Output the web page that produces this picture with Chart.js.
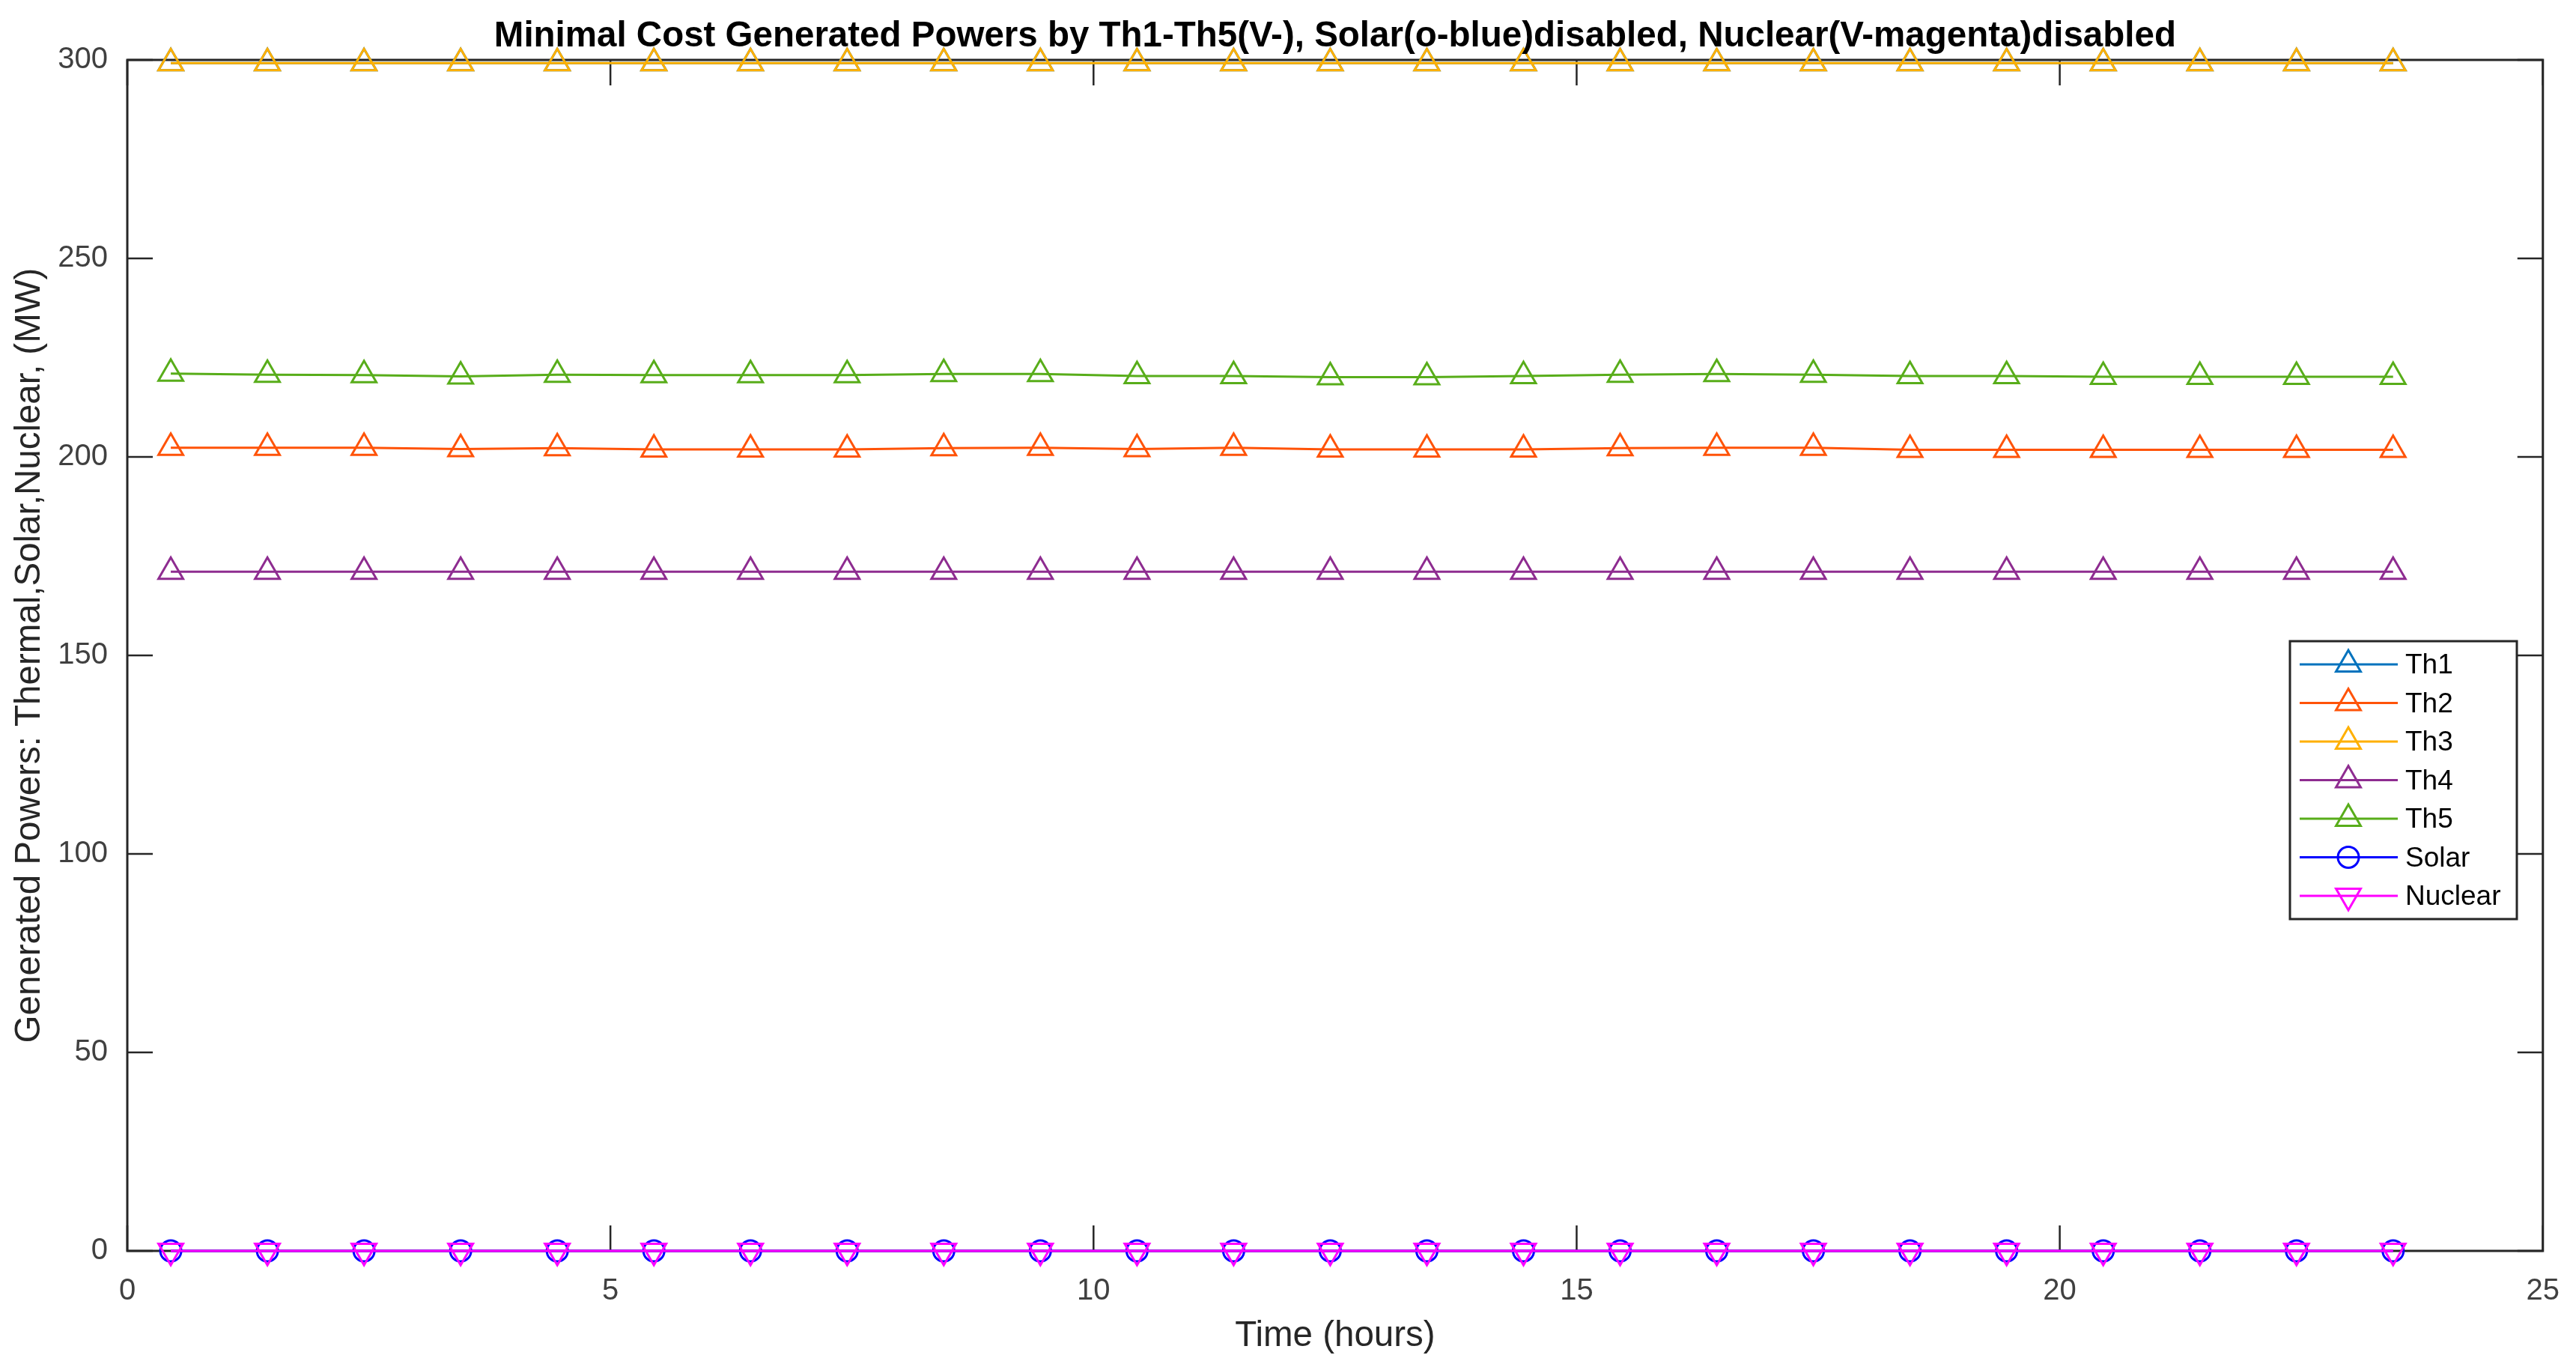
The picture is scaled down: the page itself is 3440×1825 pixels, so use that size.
<!DOCTYPE html>
<html><head><meta charset="utf-8">
<script src="https://cdn.jsdelivr.net/npm/chart.js@4.4.1/dist/chart.umd.min.js"></script>
<style>html,body{margin:0;padding:0;background:#fff;overflow:hidden}</style>
</head><body>
<canvas id="c" width="3440" height="1825" style="display:block;width:3440px;height:1825px"></canvas>
<script>
// ---- data ----
const hours = [0.45,1.45,2.45,3.45,4.45,5.45,6.45,7.45,8.45,9.45,10.45,11.45,12.45,13.45,14.45,15.45,16.45,17.45,18.45,19.45,20.45,21.45,22.45,23.45];
const th1 = [299.2,299.2,299.2,299.2,299.2,299.2,299.2,299.2,299.2,299.2,299.2,299.2,299.2,299.2,299.2,299.2,299.2,299.2,299.2,299.2,299.2,299.2,299.2,299.2];
const th2 = [202.3,202.3,202.3,202.0,202.2,201.9,201.9,201.9,202.2,202.3,202.0,202.3,201.9,201.9,201.9,202.2,202.3,202.3,201.8,201.8,201.8,201.8,201.8,201.8];
const th3 = [299.2,299.2,299.2,299.2,299.2,299.2,299.2,299.2,299.2,299.2,299.2,299.2,299.2,299.2,299.2,299.2,299.2,299.2,299.2,299.2,299.2,299.2,299.2,299.2];
const th4 = [171.1,171.1,171.1,171.1,171.1,171.1,171.1,171.1,171.1,171.1,171.1,171.1,171.1,171.1,171.1,171.1,171.1,171.1,171.1,171.1,171.1,171.1,171.1,171.1];
const th5 = [221.0,220.7,220.6,220.3,220.7,220.6,220.6,220.6,220.9,220.9,220.4,220.4,220.1,220.1,220.4,220.7,220.9,220.7,220.4,220.4,220.2,220.2,220.2,220.2];
const solar = [0,0,0,0,0,0,0,0,0,0,0,0,0,0,0,0,0,0,0,0,0,0,0,0];
const nuclear = [0,0,0,0,0,0,0,0,0,0,0,0,0,0,0,0,0,0,0,0,0,0,0,0];
const seriesNames = ['Th1','Th2','Th3','Th4','Th5','Solar','Nuclear'];
const xTicks = [0,5,10,15,20,25];
const yTicks = [0,50,100,150,200,250,300];
const titleText = 'Minimal Cost Generated Powers by Th1-Th5(V-), Solar(o-blue)disabled, Nuclear(V-magenta)disabled';
const xLabel = 'Time (hours)';
const yLabel = 'Generated Powers: Thermal,Solar,Nuclear, (MW)';

// ---- styles ----
const colors = ['#0072BD','#FF5308','#FFB000','#8E2C90','#58AD1A','#0000FF','#FF00FF'];
const markers = ['triangle','triangle','triangle','triangle','triangle','circle','triangle'];
const rotations = [0,0,0,0,0,0,180];
const radii = [19,19,19,19,19,14,19];
const values = [th1,th2,th3,th4,th5,solar,nuclear];
const AX = '#262626';

const datasets = values.map((arr,i)=>({
  label: seriesNames[i],
  data: arr.map((v,k)=>({x:hours[k], y:v})),
  borderColor: colors[i],
  backgroundColor: 'rgba(0,0,0,0)',
  borderWidth: 3,
  pointStyle: markers[i],
  pointRotation: rotations[i],
  pointRadius: radii[i],
  pointBorderWidth: 3,
  pointBorderColor: colors[i],
  pointBackgroundColor: 'rgba(0,0,0,0)',
  tension: 0,
  clip: false,
  order: values.length - i
}));

function drawMarker(ctx, style, rot, r, x, y){
  ctx.beginPath();
  if(style==='circle'){ ctx.arc(x,y,r,0,Math.PI*2); }
  else {
    let rad = rot*Math.PI/180;
    for(let k=0;k<3;k++){
      const px = x + Math.sin(rad)*r, py = y - Math.cos(rad)*r;
      if(k===0) ctx.moveTo(px,py); else ctx.lineTo(px,py);
      rad += 2*Math.PI/3;
    }
    ctx.closePath();
  }
  ctx.stroke();
}

const framePlugin = {
  id:'frame',
  beforeDatasetsDraw(chart){
    const {ctx, chartArea:a, scales:{x,y}} = chart;
    ctx.save();
    ctx.strokeStyle = AX; ctx.lineWidth = 3;
    ctx.strokeRect(a.left, a.top, a.right-a.left, a.bottom-a.top);
    ctx.lineWidth = 2.5;
    const tl = 34;
    ctx.beginPath();
    x.ticks.forEach(t=>{
      const px = x.getPixelForValue(t.value);
      ctx.moveTo(px, a.bottom); ctx.lineTo(px, a.bottom - tl);
      ctx.moveTo(px, a.top); ctx.lineTo(px, a.top + tl);
    });
    y.ticks.forEach(t=>{
      const py = y.getPixelForValue(t.value);
      ctx.moveTo(a.left, py); ctx.lineTo(a.left + tl, py);
      ctx.moveTo(a.right, py); ctx.lineTo(a.right - tl, py);
    });
    ctx.stroke();
    ctx.restore();
  },
  afterDraw(chart){
    const {ctx, chartArea:a} = chart;
    ctx.save();
    // title
    ctx.fillStyle = '#000';
    ctx.font = 'bold 47.5px "Liberation Sans", Arial, sans-serif';
    ctx.textAlign = 'center'; ctx.textBaseline = 'alphabetic';
    ctx.fillText(titleText, (a.left+a.right)/2, 62);
    // legend
    const bx=3058, by=856, bw=303, bh=371;
    ctx.fillStyle='#fff'; ctx.fillRect(bx,by,bw,bh);
    ctx.strokeStyle = AX; ctx.lineWidth = 3; ctx.strokeRect(bx,by,bw,bh);
    ctx.font = '37px "Liberation Sans", Arial, sans-serif';
    ctx.textAlign='left'; ctx.textBaseline='middle';
    chart.data.datasets.forEach((ds,i)=>{
      const ry = 887 + i*51.5;
      ctx.strokeStyle = ds.borderColor; ctx.lineWidth = 3;
      ctx.beginPath(); ctx.moveTo(3071, ry); ctx.lineTo(3202, ry); ctx.stroke();
      drawMarker(ctx, ds.pointStyle, ds.pointRotation, ds.pointRadius, 3136, ry);
      ctx.fillStyle = '#000';
      ctx.fillText(ds.label, 3212, ry+2);
    });
    ctx.restore();
  }
};

new Chart(document.getElementById('c').getContext('2d'), {
  type:'line',
  data:{ datasets },
  options:{
    responsive:false, animation:false, devicePixelRatio:1,
    layout:{ padding:{ top:80, right:40, left:0, bottom:0 } },
    plugins:{ legend:{display:false}, tooltip:{enabled:false}, title:{display:false} },
    scales:{
      x:{
        type:'linear', min:0, max:25,
        afterBuildTicks(s){ s.ticks = xTicks.map(v=>({value:v})); },
        ticks:{ color:'#404040', font:{family:'"Liberation Sans", Arial, sans-serif', size:40}, padding:22, maxRotation:0 },
        grid:{ display:false }, border:{ display:false },
        title:{ display:true, text:xLabel, color:AX, font:{family:'"Liberation Sans", Arial, sans-serif', size:47.5}, padding:{top:0,bottom:13} },
        afterFit(s){ s.height = 155; }
      },
      y:{
        type:'linear', min:0, max:300,
        afterBuildTicks(s){ s.ticks = yTicks.map(v=>({value:v})); },
        ticks:{ color:'#404040', font:{family:'"Liberation Sans", Arial, sans-serif', size:40}, padding:18 },
        grid:{ display:false }, border:{ display:false },
        title:{ display:true, text:yLabel, color:AX, font:{family:'"Liberation Sans", Arial, sans-serif', size:47.5}, padding:{top:11,bottom:0} },
        afterFit(s){ s.width = 170; }
      }
    }
  },
  plugins:[framePlugin]
});
</script>
</body></html>
